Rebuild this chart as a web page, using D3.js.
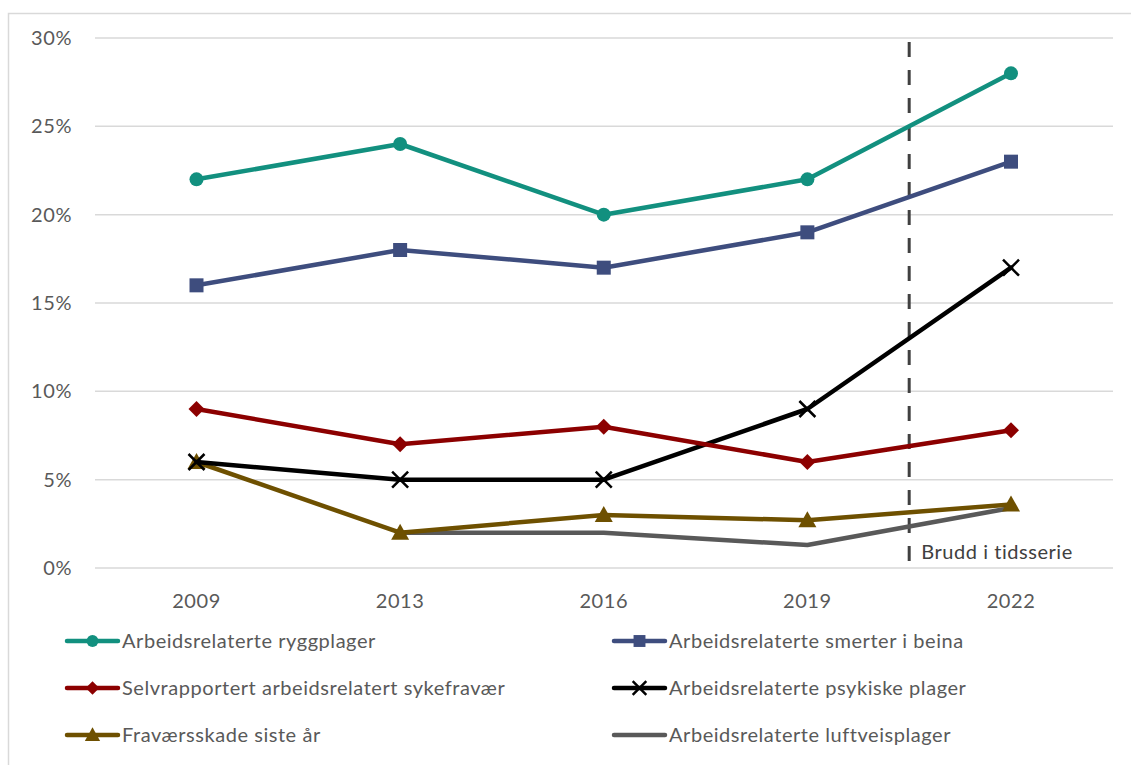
<!DOCTYPE html>
<html><head><meta charset="utf-8">
<script src="https://cdn.jsdelivr.net/npm/d3@7"></script>
<style>body{margin:0;background:#fff}svg{display:block;font-family:Lato,"Open Sans",sans-serif}text{letter-spacing:0.55px}</style>
</head><body><svg id="c" width="1131" height="765"></svg>
<script>
const years = ["2009","2013","2016","2019","2022"];
const yTicks = [0,5,10,15,20,25,30];
const seriesNames = ["Arbeidsrelaterte ryggplager","Arbeidsrelaterte smerter i beina","Selvrapportert arbeidsrelatert sykefravær","Arbeidsrelaterte psykiske plager","Fraværsskade siste år","Arbeidsrelaterte luftveisplager"];
const rygg = [22,24,20,22,28];
const beina = [16,18,17,19,23];
const sykefravaer = [9,7,8,6,7.8];
const psykiske = [6,5,5,9,17];
const fravaersskade = [6,2,3,2.7,3.6];
const luftvei = [null,2,2,1.3,3.4];
const colors = ["#12907f","#3e4d7e","#8c0000","#000000","#6e5000","#595959"];
const markers = ["circle","square","diamond","x","triangle","none"];
const breakLabel = "Brudd i tidsserie";

const values = [rygg,beina,sykefravaer,psykiske,fravaersskade,luftvei];
const svg = d3.select("#c");
svg.append("path").attr("d","M8.5,765 V13.5 H1131").attr("fill","none").attr("stroke","#d9d9d9").attr("stroke-width",1.5);

const x = d3.scalePoint().domain(years).range([196.5,1011]);
const y = d3.scaleLinear().domain([0,30]).range([568,38]);
const x0 = 95, x1 = 1113;
const fs = 20;

svg.append("g").selectAll("line").data(yTicks).join("line")
  .attr("x1",x0).attr("x2",x1).attr("y1",d=>y(d)).attr("y2",d=>y(d))
  .attr("stroke","#d9d9d9").attr("stroke-width",1.5);
svg.append("g").selectAll("text").data(yTicks).join("text")
  .attr("x",72).attr("y",d=>y(d)+7).attr("text-anchor","end")
  .attr("font-size",fs).attr("fill","#595959").text(d=>d+"%");
svg.append("g").selectAll("text").data(years).join("text")
  .attr("x",d=>x(d)).attr("y",608).attr("text-anchor","middle")
  .attr("font-size",fs).attr("fill","#595959").text(d=>d);

const bx = (x("2019")+x("2022"))/2;
svg.append("line").attr("x1",bx).attr("x2",bx).attr("y1",42).attr("y2",563)
  .attr("stroke","#404040").attr("stroke-width",3).attr("stroke-dasharray","15,13");
svg.append("text").attr("x",bx+12).attr("y",559).attr("font-size",fs).attr("fill","#404040").text(breakLabel);

function drawMarker(g, type, cx, cy, col, s){
  s = s||1;
  if(type==="circle") g.append("circle").attr("cx",cx).attr("cy",cy).attr("r",7*s).attr("fill",col);
  else if(type==="square") g.append("rect").attr("x",cx-7*s).attr("y",cy-7*s).attr("width",14*s).attr("height",14*s).attr("fill",col);
  else if(type==="diamond") g.append("path").attr("d",`M${cx},${cy-8*s}L${cx+8*s},${cy}L${cx},${cy+8*s}L${cx-8*s},${cy}Z`).attr("fill",col);
  else if(type==="triangle") g.append("path").attr("d",`M${cx},${cy-9*s}L${cx+9*s},${cy+7*s}L${cx-9*s},${cy+7*s}Z`).attr("fill",col);
  else if(type==="x") g.append("path").attr("d",`M${cx-8*s},${cy-8*s}L${cx+8*s},${cy+8*s}M${cx+8*s},${cy-8*s}L${cx-8*s},${cy+8*s}`).attr("stroke",col).attr("stroke-width",2.5);
}

const line = d3.line().defined(d=>d.v!=null).x(d=>x(d.k)).y(d=>y(d.v));
[5,4,3,2,1,0].forEach(i=>{
  const data = years.map((k,j)=>({k,v:values[i][j]}));
  const g = svg.append("g");
  g.append("path").datum(data).attr("d",line).attr("fill","none")
    .attr("stroke",colors[i]).attr("stroke-width",4.5).attr("stroke-linejoin","round").attr("stroke-linecap","round");
  data.filter(d=>d.v!=null).forEach(d=>drawMarker(g,markers[i],x(d.k),y(d.v),colors[i]));
});

const legX = [67,614], legY = [641,688,735];
seriesNames.forEach((n,i)=>{
  const lx = legX[i%2], ly = legY[Math.floor(i/2)];
  const g = svg.append("g");
  g.append("line").attr("x1",lx).attr("x2",lx+51).attr("y1",ly).attr("y2",ly)
    .attr("stroke",colors[i]).attr("stroke-width",4.5).attr("stroke-linecap","round");
  drawMarker(g,markers[i],lx+25.5,ly,colors[i],0.85);
  g.append("text").attr("x",lx+55).attr("y",ly+7).attr("font-size",fs).attr("fill","#595959").text(n);
});
</script></body></html>
